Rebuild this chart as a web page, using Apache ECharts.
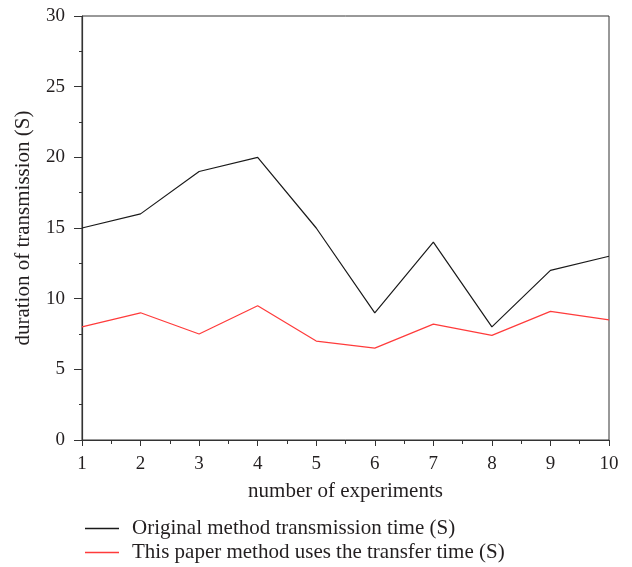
<!DOCTYPE html>
<html>
<head>
<meta charset="utf-8">
<script src="https://cdn.jsdelivr.net/npm/echarts@6/dist/echarts.min.js"></script>
<style>html,body{margin:0;padding:0;background:#fff}#c{width:632px;height:567px}</style>
</head>
<body>
<div id="c"></div>
<script>
var experiments = [1, 2, 3, 4, 5, 6, 7, 8, 9, 10];
var originalTime = [15, 16, 19, 20, 15, 9, 14, 8, 12, 13];
var paperTime = [8, 9, 7.5, 9.5, 7, 6.5, 8.2, 7.4, 9.1, 8.5];
var seriesNames = ['Original method transmission time (S)', 'This paper method uses the transfer time (S)'];
var xTitle = 'number of experiments';
var yTitle = 'duration of transmission (S)';

var font = '"Liberation Serif", "DejaVu Serif", serif';
var chart = echarts.init(document.getElementById('c'), null, {renderer: 'canvas'});
function pairs(vals) { return experiments.map(function (x, i) { return [x, vals[i]]; }); }
chart.setOption({
  animation: false,
  backgroundColor: '#fff',
  grid: {left: 82, right: 23, top: 16, bottom: 127, show: true, borderColor: '#333', borderWidth: 1, backgroundColor: 'transparent'},
  xAxis: {
    type: 'value', min: 1, max: 10, interval: 1,
    name: xTitle, nameLocation: 'middle', nameGap: 41,
    nameTextStyle: {fontFamily: font, fontSize: 21, color: '#231f20'},
    axisLine: {show: true, lineStyle: {color: '#333', width: 1.2}},
    axisTick: {show: true, inside: false, length: 6, lineStyle: {color: '#333'}},
    minorTick: {show: true, splitNumber: 2, length: 4, lineStyle: {color: '#333'}},
    splitLine: {show: false},
    axisLabel: {fontFamily: font, fontSize: 19, color: '#231f20', margin: 15}
  },
  yAxis: {
    type: 'value', min: 0, max: 30, interval: 5,
    name: yTitle, nameLocation: 'middle', nameGap: 48, nameRotate: 90,
    nameTextStyle: {fontFamily: font, fontSize: 21, color: '#231f20'},
    axisLine: {show: true, lineStyle: {color: '#333', width: 1.2}},
    axisTick: {show: true, inside: false, length: 8, lineStyle: {color: '#333'}},
    minorTick: {show: true, splitNumber: 2, length: 3, lineStyle: {color: '#333'}},
    splitLine: {show: false},
    axisLabel: {fontFamily: font, fontSize: 19, color: '#231f20', margin: 17}
  },
  legend: {
    orient: 'vertical', left: 85, top: 518, itemGap: 3, padding: 0,
    icon: 'rect', itemWidth: 34, itemHeight: 1.4,
    textStyle: {fontFamily: font, fontSize: 21, color: '#231f20', lineHeight: 21, padding: [0, 0, 0, 8]},
    data: seriesNames
  },
  series: [
    {name: seriesNames[0], type: 'line', data: pairs(originalTime), symbol: 'none',
     lineStyle: {color: '#1a1a1a', width: 1.2}, itemStyle: {color: '#1a1a1a'}},
    {name: seriesNames[1], type: 'line', data: pairs(paperTime), symbol: 'none',
     lineStyle: {color: '#ff3b3b', width: 1.2}, itemStyle: {color: '#ff3b3b'}}
  ]
});
</script>
</body>
</html>
